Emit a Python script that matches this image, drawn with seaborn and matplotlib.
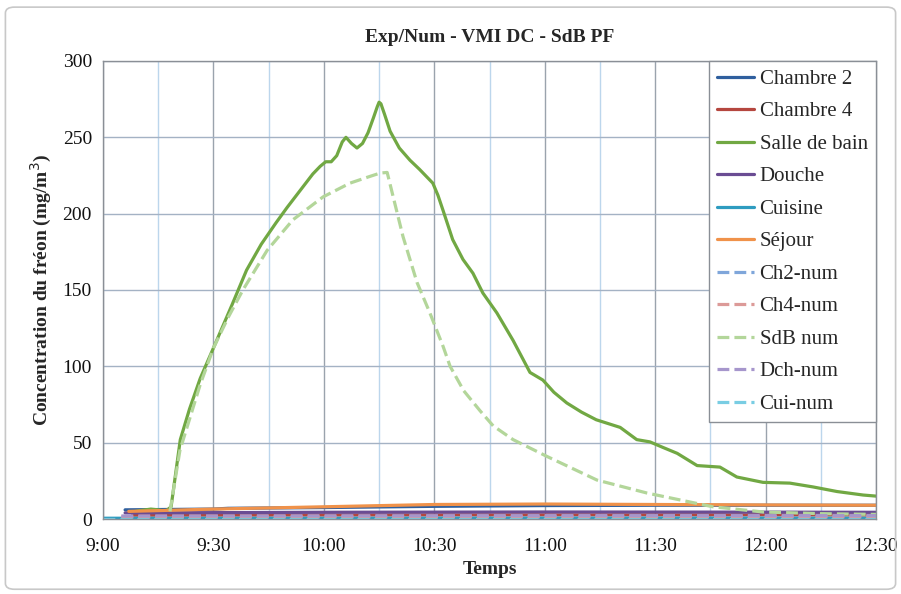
import matplotlib
matplotlib.use("Agg")
import matplotlib.pyplot as plt
from matplotlib.patches import FancyBboxPatch
import seaborn as sns

# time in minutes after 9:00
sdb_t = [8, 10, 13, 15, 17, 18.5, 21, 23.5, 26.4, 30, 35, 39, 43, 47, 50, 53.5, 57, 59, 60.5, 62,
         63.5, 65, 66, 67.5, 69, 70.5, 72, 73.5, 74.5, 75, 75.5, 76.5, 78, 80.5, 83.4, 86, 88, 89.6,
         91, 92.4, 95, 97.8, 100.5, 103.2, 107, 111.4, 116, 119.5, 122.5, 126, 130, 134, 140.5, 145,
         148.6, 152, 156, 161.4, 167.6, 172.2, 179.3, 186.6, 192.9, 199.4, 206.5, 210]
sdb_v = [4.6, 5.5, 6.5, 6, 5, 8, 52, 72, 92, 112, 140, 163, 180, 194, 204, 215, 226, 231, 234, 234,
         238, 247, 250, 246, 243, 246, 253, 263, 270, 273, 272, 265, 254, 243, 235, 229, 224, 220,
         212, 202, 183, 170, 161, 148, 135, 117, 96, 91, 83, 76, 70, 65, 60, 52,
         50.5, 47, 43, 35, 34, 27.5, 24, 23.5, 21, 18, 15.7, 15]

sdbnum_t = [18.2, 20.9, 26.4, 30, 34, 38, 44.6, 51.6, 59.8, 67.1, 72, 75.3, 77.2, 81.5, 85.3, 88.8,
            92.4, 94.3, 98, 102.4, 106, 111.4, 120.6, 134.2, 147.8, 165.7, 179.3, 195, 210]
sdbnum_v = [5, 45, 88, 112, 132, 150, 176, 196, 211, 220, 224, 226.6, 227, 185, 155, 135,
            113, 100, 84, 71, 61, 52, 41, 25.5, 17, 8, 4.6, 3.5, 3]

ch2_t = [6, 30, 34, 60, 90, 120, 150, 180, 210]
ch2_v = [6, 6.5, 7, 7.5, 8.3, 8.8, 9, 9, 9]
ch4_t = [8, 60, 120, 180, 210]
ch4_v = [2.5, 2.6, 2.7, 2.7, 2.6]
dch_t = [6, 60, 120, 180, 210]
dch_v = [4.0, 4.4, 4.6, 4.5, 4.4]
cui_t = [0, 60, 120, 180, 210]
cui_v = [0.5, 0.5, 0.6, 0.6, 0.5]
sej_t = [7, 15, 30, 60, 90, 120, 150, 180, 210]
sej_v = [5, 5.5, 6.5, 8, 9.5, 9.8, 9.5, 9.2, 9]

ch2num_t = [5, 60, 120, 210]
ch2num_v = [1.0, 1.0, 1.1, 1.1]
ch4num_t = [5, 60, 120, 210]
ch4num_v = [1.5, 1.6, 1.7, 1.7]
dchnum_t = [5, 60, 120, 210]
dchnum_v = [2.0, 2.1, 2.2, 2.2]
cuinum_t = [0, 60, 120, 210]
cuinum_v = [0.3, 0.3, 0.3, 0.3]

tick_min = [0, 30, 60, 90, 120, 150, 180, 210]
tick_lab = ["9:00", "9:30", "10:00", "10:30", "11:00", "11:30", "12:00", "12:30"]

series = [
    ("Chambre 2", ch2_t, ch2_v, "#2F5F9E", "-"),
    ("Chambre 4", ch4_t, ch4_v, "#B5473F", "-"),
    ("Salle de bain", sdb_t, sdb_v, "#71A843", "-"),
    ("Douche", dch_t, dch_v, "#6A4C93", "-"),
    ("Cuisine", cui_t, cui_v, "#2E9CC0", "-"),
    ("Séjour", sej_t, sej_v, "#F0924A", "-"),
    ("Ch2-num", ch2num_t, ch2num_v, "#7FA6DA", "--"),
    ("Ch4-num", ch4num_t, ch4num_v, "#DC9A98", "--"),
    ("SdB num", sdbnum_t, sdbnum_v, "#B3D69A", "--"),
    ("Dch-num", dchnum_t, dchnum_v, "#A696CC", "--"),
    ("Cui-num", cuinum_t, cuinum_v, "#79CDE3", "--"),
]

sns.set_theme(style="white")
plt.rcParams["font.family"] = ["Liberation Serif", "DejaVu Serif"]

fig = plt.figure(figsize=(9.01, 5.94), dpi=100)
ax = fig.add_axes([103 / 901, 1 - 519 / 594, (876 - 103) / 901, (519 - 61) / 594])

# chart area border
fig.patches.append(FancyBboxPatch((0.006, 0.008), 0.988, 0.98, boxstyle="round,pad=0,rounding_size=0.01",
                                  transform=fig.transFigure, fill=False, edgecolor="#c8c8c8", lw=1.2))

for name, t, v, col, ls in series:
    sns.lineplot(x=t, y=v, ax=ax, color=col, linestyle=ls, linewidth=2.3,
                 label=name, sort=False)

ax.set_xlim(0, 210)
ax.set_ylim(0, 300)
ax.set_xticks(tick_min)
ax.set_xticklabels(tick_lab)
ax.set_xticks([15, 45, 75, 105, 135, 165, 195], minor=True)
ax.set_yticks([0, 50, 100, 150, 200, 250, 300])
ax.grid(which="major", axis="x", color="#9aa3ad", lw=1.0)
ax.grid(which="minor", axis="x", color="#bcd6ec", lw=1.0)
ax.grid(which="major", axis="y", color="#a4b2c4", lw=1.0)
ax.set_axisbelow(True)
ax.tick_params(which="both", length=0, labelsize=14, colors="#111111")
ax.tick_params(axis="x", pad=14)
ax.tick_params(axis="y", pad=8)
for sp in ax.spines.values():
    sp.set_color("#8a8f96")
    sp.set_linewidth(1.0)

ax.set_title("Exp/Num - VMI DC - SdB PF", fontsize=14, fontweight="bold", pad=14)
ax.set_xlabel("Temps", fontsize=14, fontweight="bold", labelpad=4)
ax.set_ylabel("Concentration du fréon (mg/m$^3$)", fontsize=14, fontweight="bold", labelpad=6)

leg = ax.legend(loc="upper right", borderaxespad=0, fontsize=15, frameon=True, fancybox=False,
                handlelength=1.8, handletextpad=0.25, labelspacing=0.62, borderpad=0.4)
leg.get_frame().set_edgecolor("#8a8f96")
leg.get_frame().set_linewidth(1.0)
leg.get_frame().set_alpha(1)

fig.savefig("out.png", dpi=100)
